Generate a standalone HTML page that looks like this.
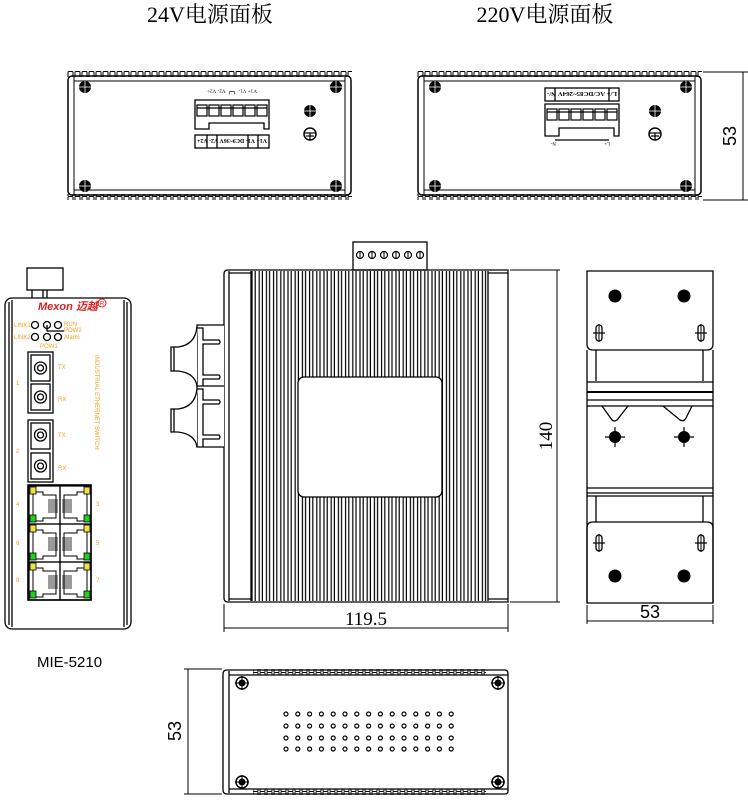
<!DOCTYPE html>
<html><head><meta charset="utf-8"><style>
html,body{margin:0;padding:0;background:#fff;}
svg{display:block;}
text{font-family:"Liberation Serif","Noto Serif CJK SC",serif;}
.s,.s text{font-family:"Liberation Sans","Noto Sans CJK SC",sans-serif;}
</style></head><body>
<svg width="748" height="800" viewBox="0 0 748 800" xmlns="http://www.w3.org/2000/svg">
<defs>
<pattern id="bump" x="0" y="0" width="7" height="6" patternUnits="userSpaceOnUse">
<path d="M1 6 V1.5 Q1 0.5 2 0.5 H5 Q6 0.5 6 1.5 V6" fill="none" stroke="#000" stroke-width="1"/>
</pattern>
<pattern id="bumpd" x="0" y="0" width="7" height="6" patternUnits="userSpaceOnUse">
<path d="M1 0 V4.5 Q1 5.5 2 5.5 H5 Q6 5.5 6 4.5 V0" fill="none" stroke="#000" stroke-width="1"/>
</pattern>
<pattern id="fin" x="251" y="0" width="7.2" height="10" patternUnits="userSpaceOnUse">
<line x1="1" y1="0" x2="1" y2="10" stroke="#000" stroke-width="1.2"/>
<line x1="4.2" y1="0" x2="4.2" y2="10" stroke="#000" stroke-width="1.2"/>
</pattern>
<g id="drow" fill="none" stroke="#000" stroke-width="1.2">
<circle cx="0" cy="0" r="2"/><circle cx="11.8" cy="0" r="2"/><circle cx="23.6" cy="0" r="2"/><circle cx="35.4" cy="0" r="2"/><circle cx="47.2" cy="0" r="2"/><circle cx="59" cy="0" r="2"/><circle cx="70.8" cy="0" r="2"/><circle cx="82.6" cy="0" r="2"/><circle cx="94.4" cy="0" r="2"/><circle cx="106.2" cy="0" r="2"/><circle cx="118" cy="0" r="2"/><circle cx="129.8" cy="0" r="2"/><circle cx="141.6" cy="0" r="2"/><circle cx="153.4" cy="0" r="2"/><circle cx="165.2" cy="0" r="2"/>
</g>
<g id="scr"><circle r="6" fill="#000"/><line x1="-6" y1="0" x2="6" y2="0" stroke="#fff" stroke-width="0.8"/><line x1="0" y1="-6" x2="0" y2="6" stroke="#fff" stroke-width="0.8"/></g>
<g id="scr2"><circle r="6" fill="#fff" stroke="#000" stroke-width="1.5"/><circle r="3.5" fill="#000"/><line x1="-7" y1="0" x2="7" y2="0" stroke="#000" stroke-width="1"/><line x1="0" y1="-7" x2="0" y2="7" stroke="#000" stroke-width="1"/></g>
<g id="gnd"><circle r="6" fill="#fff" stroke="#000" stroke-width="1.5"/><line x1="-6" y1="-1" x2="6" y2="-1" stroke="#000" stroke-width="1.2"/><line x1="-4" y1="2" x2="4" y2="2" stroke="#000" stroke-width="1.2"/><line x1="0" y1="-1" x2="0" y2="6" stroke="#000" stroke-width="1.2"/></g>
<g id="oval"><rect x="-3" y="-8" width="6" height="16" rx="3" fill="#fff" stroke="#000" stroke-width="1.3"/><line x1="-6" y1="0" x2="6" y2="0" stroke="#000" stroke-width="1.2"/><line x1="0" y1="-9" x2="0" y2="9" stroke="#000" stroke-width="1"/></g>
<g id="dscr"><circle r="6" fill="#000"/><line x1="-10" y1="0" x2="10" y2="0" stroke="#000" stroke-width="1.2"/><line x1="0" y1="-10" x2="0" y2="10" stroke="#000" stroke-width="1.2"/></g>
<g id="cells" fill="none" stroke="#000" stroke-width="1.2">
<rect x="0" y="0" width="10" height="11"/><rect x="12" y="0" width="10" height="11"/><rect x="24" y="0" width="10" height="11"/><rect x="36" y="0" width="10" height="11"/><rect x="48" y="0" width="10" height="11"/><rect x="60" y="0" width="10" height="11"/>
<line x1="0" y1="3" x2="70" y2="3"/>
</g>
<g id="panel">
<rect x="0" y="0" width="285" height="6" fill="url(#bump)"/>
<rect x="0" y="123" width="285" height="6" fill="url(#bumpd)"/>
<rect x="1" y="5" width="283" height="119" rx="4" fill="none" stroke="#000" stroke-width="1.5"/>
<line x1="7" y1="10" x2="278" y2="10" stroke="#000" stroke-width="1"/>
<line x1="7" y1="119" x2="278" y2="119" stroke="#000" stroke-width="1"/>
<line x1="7" y1="6" x2="7" y2="123" stroke="#000" stroke-width="1"/>
<line x1="278" y1="6" x2="278" y2="123" stroke="#000" stroke-width="1"/>
</g>
<g id="rj">
<rect x="0" y="0" width="31" height="38" fill="none" stroke="#000" stroke-width="1.2"/>
<path d="M4 6 H14 V9 H27 V32 H14 V35 H4 Z" fill="none" stroke="#000" stroke-width="1"/>
<g stroke="#000" stroke-width="0.8"><line x1="19" y1="14" x2="29" y2="14"/><line x1="19" y1="16" x2="29" y2="16"/><line x1="19" y1="18" x2="29" y2="18"/><line x1="19" y1="20" x2="29" y2="20"/><line x1="19" y1="22" x2="29" y2="22"/><line x1="19" y1="24" x2="29" y2="24"/><line x1="19" y1="26" x2="29" y2="26"/></g>
<rect x="1" y="1" width="6" height="7" fill="#f0e040" stroke="#000" stroke-width="0.8"/>
<rect x="1" y="29" width="6" height="7" fill="#20d020" stroke="#000" stroke-width="0.8"/>
</g>
</defs>

<text x="210" y="22" font-size="22" text-anchor="middle">24V电源面板</text>
<text x="545" y="22" font-size="22" text-anchor="middle">220V电源面板</text>

<g transform="translate(67,71)"><use href="#panel"/></g>
<use href="#scr" x="85" y="87"/><use href="#scr" x="336" y="87"/><use href="#scr" x="85" y="186"/><use href="#scr" x="336" y="186"/>
<use href="#scr" x="310" y="111"/><use href="#gnd" x="310" y="134"/>
<g fill="none" stroke="#000" stroke-width="1.3">
<path d="M195 100 H269 V129 H264 V123 H209 V129 H205 H195 Z"/>
<rect x="195" y="135" width="74" height="13"/>
<line x1="207" y1="135" x2="207" y2="148"/><line x1="217" y1="135" x2="217" y2="148"/><line x1="248" y1="135" x2="248" y2="148"/><line x1="258" y1="135" x2="258" y2="148"/>
</g>
<use href="#cells" x="197" y="105"/>
<text x="232" y="144" font-size="6" text-anchor="middle" transform="rotate(180 232 141.5)" font-weight="bold" textLength="70" lengthAdjust="spacingAndGlyphs">V1+ V1- DC9~36V V2- V2+</text>
<text x="232" y="94.5" font-size="5" text-anchor="middle" transform="rotate(180 232 92)" textLength="50" lengthAdjust="spacingAndGlyphs">V1+ V1- ┗┛ V2- V2+</text>

<g transform="translate(417,71)"><use href="#panel"/></g>
<use href="#scr" x="435" y="87"/><use href="#scr" x="686" y="87"/><use href="#scr" x="435" y="186"/><use href="#scr" x="686" y="186"/>
<use href="#scr" x="655" y="111"/><use href="#gnd" x="655" y="134"/>
<g fill="none" stroke="#000" stroke-width="1.3">
<rect x="545" y="88" width="74" height="13"/>
<line x1="555" y1="88" x2="555" y2="101"/><line x1="609" y1="88" x2="609" y2="101"/>
<path d="M545 104 H619 V136 H614 V128 H559 V136 H545 Z"/>
<path d="M555 140 H609"/>
</g>
<use href="#cells" x="547" y="109"/>
<text x="582" y="97" font-size="6" text-anchor="middle" transform="rotate(180 582 94.5)" font-weight="bold" textLength="70" lengthAdjust="spacingAndGlyphs">L/+ AC/DC85~264V N/-</text>
<text x="556" y="146" font-size="5" transform="rotate(180 556 144)">N-</text>
<text x="610" y="146" font-size="5" transform="rotate(180 610 144)">L+</text>
<g stroke="#000" stroke-width="1"><line x1="703" y1="72" x2="748" y2="72"/><line x1="703" y1="200" x2="748" y2="200"/><line x1="743" y1="72" x2="743" y2="200"/></g>
<text x="736" y="136" font-size="18" text-anchor="middle" transform="rotate(-90 736 136)" class="s">53</text>

<g fill="none" stroke="#000" stroke-width="1.3">
<rect x="27" y="268" width="36" height="22" fill="#fff"/>
<line x1="32" y1="290" x2="32" y2="298"/><line x1="43" y1="290" x2="43" y2="298"/><line x1="47" y1="290" x2="47" y2="298"/>
<rect x="5" y="298" width="126" height="331" rx="7"/>
<line x1="12" y1="300" x2="12" y2="627"/><line x1="124" y1="300" x2="124" y2="627"/>
<line x1="9" y1="302" x2="9" y2="625"/><line x1="127" y1="302" x2="127" y2="625"/>
</g>
<text x="38" y="310" font-size="11" font-weight="bold" font-style="italic" fill="#e02020" class="s">Mexon 迈越</text>
<circle cx="102" cy="303" r="4" fill="none" stroke="#e02020" stroke-width="1"/><text x="102" y="305.5" font-size="6" fill="#e02020" text-anchor="middle" class="s">R</text>
<g fill="none" stroke="#000" stroke-width="1.3">
<circle cx="35" cy="325" r="3.5"/><circle cx="47" cy="325" r="3.5"/><circle cx="58" cy="325" r="3.5"/>
<circle cx="35" cy="337" r="3.5"/><circle cx="47" cy="337" r="3.5"/><circle cx="58" cy="337" r="3.5"/>
<path d="M47 325 V331 H64"/>
</g>
<g fill="#f0a020" font-size="6" class="s">
<text x="14" y="327">LINK1</text><text x="14" y="339">LINK2</text>
<text x="64" y="326">RUN</text><text x="64" y="332">POW2</text><text x="64" y="339">Alarm</text>
<text x="40" y="348">POW1</text>
<text x="58" y="369">TX</text><text x="58" y="401">RX</text>
<text x="58" y="437">TX</text><text x="58" y="470">RX</text>
<text x="16" y="385">1</text><text x="16" y="453">2</text>
<text x="16" y="506">4</text><text x="16" y="545">6</text><text x="16" y="582">8</text>
<text x="96" y="506">3</text><text x="96" y="545">5</text><text x="96" y="582">7</text>
<text x="95" y="355" transform="rotate(90 95 355)" font-size="6">INDUSTRIAL ETHERNET SWITCH</text>
</g>
<g fill="none" stroke="#000" stroke-width="1.3">
<rect x="28" y="352" width="25" height="61"/><rect x="31" y="355" width="19" height="26"/><rect x="31" y="384" width="19" height="26"/>
<circle cx="40.5" cy="368" r="6"/><circle cx="40.5" cy="368" r="3"/><circle cx="40.5" cy="397" r="6"/><circle cx="40.5" cy="397" r="3"/>
<rect x="28" y="420" width="25" height="62"/><rect x="31" y="423" width="19" height="26"/><rect x="31" y="453" width="19" height="26"/>
<circle cx="40.5" cy="435" r="6"/><circle cx="40.5" cy="435" r="3"/><circle cx="40.5" cy="466" r="6"/><circle cx="40.5" cy="466" r="3"/>
<rect x="28" y="485" width="63" height="115" stroke-width="1.6"/>
</g>
<use href="#rj" x="29" y="486"/><use href="#rj" x="60" y="486" transform="translate(151,0) scale(-1,1)"/>
<use href="#rj" x="29" y="524"/><use href="#rj" x="60" y="524" transform="translate(151,0) scale(-1,1)"/>
<use href="#rj" x="29" y="562"/><use href="#rj" x="60" y="562" transform="translate(151,0) scale(-1,1)"/>
<text x="37" y="667" font-size="15" class="s">MIE-5210</text>

<rect x="353" y="242" width="74" height="28" fill="none" stroke="#000" stroke-width="1.3"/>
<g fill="#fff" stroke="#000" stroke-width="1.2">
<circle cx="360" cy="255" r="3.5"/><circle cx="372" cy="255" r="3.5"/><circle cx="384" cy="255" r="3.5"/><circle cx="396" cy="255" r="3.5"/><circle cx="408" cy="255" r="3.5"/><circle cx="420" cy="255" r="3.5"/>
</g>
<g stroke="#000" stroke-width="1"><line x1="360" y1="251" x2="360" y2="259"/><line x1="372" y1="251" x2="372" y2="259"/><line x1="384" y1="251" x2="384" y2="259"/><line x1="396" y1="251" x2="396" y2="259"/><line x1="408" y1="251" x2="408" y2="259"/><line x1="420" y1="251" x2="420" y2="259"/></g>
<rect x="251" y="271" width="237" height="330" fill="url(#fin)"/>
<rect x="298" y="377" width="144" height="120" rx="6" fill="#fff" stroke="#000" stroke-width="1.3"/>
<g fill="none" stroke="#000" stroke-width="1.3">
<path d="M228 270 H508 V602 H228 Q224 602 224 598 V274 Q224 270 228 270 Z"/>
<line x1="229" y1="271" x2="229" y2="601"/><line x1="251" y1="271" x2="251" y2="601"/><line x1="488" y1="271" x2="488" y2="601"/>
<line x1="229" y1="273" x2="251" y2="273"/><line x1="229" y1="599" x2="251" y2="599"/>
<line x1="488" y1="273" x2="508" y2="273"/><line x1="488" y1="599" x2="508" y2="599"/>
</g>
<g fill="#fff" stroke="#000" stroke-width="1.3">
<path d="M224 325 H197 V447 H224"/>
<line x1="197" y1="386" x2="224" y2="386"/>
<path d="M197 328 H203 V340 H219 Q221 342 219 344 H203 V375 H219 Q221 377 219 379 H203 V386" />
<path d="M197 389 H203 V400 H219 Q221 402 219 404 H203 V435 H219 Q221 437 219 439 H203 V447" />
<path d="M197 327 Q195 345 178 347 H171 V371 H178 Q195 373 197 386"/>
<path d="M197 389 Q195 407 178 409 H171 V432 H178 Q195 434 197 447"/>
<line x1="174" y1="347" x2="174" y2="371"/><line x1="174" y1="409" x2="174" y2="432"/>
</g>
<g stroke="#000" stroke-width="1"><line x1="510" y1="270" x2="560" y2="270"/><line x1="510" y1="602" x2="560" y2="602"/><line x1="557" y1="270" x2="557" y2="602"/>
<line x1="224" y1="604" x2="224" y2="632"/><line x1="508" y1="604" x2="508" y2="632"/><line x1="224" y1="628" x2="508" y2="628"/></g>
<text x="552" y="436" font-size="19" text-anchor="middle" transform="rotate(-90 552 436)">140</text>
<text x="366" y="625" font-size="19" text-anchor="middle">119.5</text>

<g fill="none" stroke="#000" stroke-width="1.3">
<path d="M587 271 H713 V344 Q713 350 707 350 H593 Q587 350 587 344 Z"/>
<line x1="587" y1="350" x2="587" y2="603"/><line x1="713" y1="350" x2="713" y2="603"/>
<line x1="596" y1="350" x2="596" y2="381"/><line x1="703" y1="350" x2="703" y2="381"/>
<line x1="587" y1="382" x2="713" y2="382"/><line x1="587" y1="392" x2="713" y2="392" stroke-width="2"/><line x1="587" y1="400" x2="713" y2="400"/><line x1="587" y1="406" x2="713" y2="406"/>
<path d="M602 406 L612 420 Q614 422 617 420 L628 406"/><path d="M663 406 L680 420 Q684 422 686 418 L692 406"/>
<line x1="587" y1="488" x2="713" y2="488"/><line x1="587" y1="493" x2="713" y2="493"/><line x1="587" y1="496" x2="713" y2="496"/>
<line x1="596" y1="496" x2="596" y2="522"/><line x1="703" y1="496" x2="703" y2="522"/>
<path d="M593 522 H707 Q713 522 713 528 V603 H587 V528 Q587 522 593 522 Z"/>
</g>
<circle cx="615" cy="296" r="6.5" fill="#000"/><circle cx="684" cy="296" r="6.5" fill="#000"/>
<circle cx="615" cy="576" r="6.5" fill="#000"/><circle cx="684" cy="576" r="6.5" fill="#000"/>
<use href="#oval" x="599" y="333"/><use href="#oval" x="701" y="333"/><use href="#oval" x="599" y="543"/><use href="#oval" x="701" y="543"/>
<use href="#dscr" x="615" y="437"/><use href="#dscr" x="684" y="437"/>
<g stroke="#000" stroke-width="1"><line x1="587" y1="605" x2="587" y2="624"/><line x1="713" y1="605" x2="713" y2="624"/><line x1="587" y1="621" x2="713" y2="621"/></g>
<text x="650" y="618" font-size="18" text-anchor="middle" class="s">53</text>

<rect x="253" y="669" width="233" height="6" fill="url(#bump)"/>
<rect x="253" y="789" width="233" height="6" fill="url(#bumpd)"/>
<g fill="none" stroke="#000" stroke-width="1.3">
<path d="M227 670 H505 Q508 670 508 674 V791 Q508 794 505 794 H227 Q223 794 223 790 V674 Q223 670 227 670 Z"/>
<line x1="229" y1="671" x2="229" y2="793"/>
<line x1="229" y1="675" x2="508" y2="675"/><line x1="229" y1="789" x2="508" y2="789"/>
</g>
<use href="#drow" x="286" y="714"/><use href="#drow" x="286" y="726"/><use href="#drow" x="286" y="738"/><use href="#drow" x="286" y="749"/>
<use href="#scr2" x="242" y="683"/><use href="#scr2" x="498" y="683"/><use href="#scr2" x="242" y="782"/><use href="#scr2" x="498" y="782"/>
<g stroke="#000" stroke-width="1"><line x1="184" y1="669" x2="222" y2="669"/><line x1="184" y1="794" x2="222" y2="794"/><line x1="188" y1="669" x2="188" y2="794"/></g>
<text x="181" y="731" font-size="18" text-anchor="middle" transform="rotate(-90 181 731)" class="s">53</text>
</svg>
</body></html>
